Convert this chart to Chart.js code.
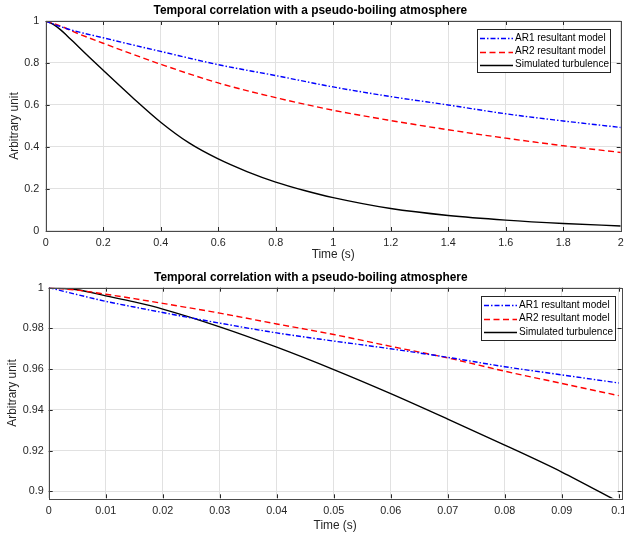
<!DOCTYPE html>
<html><head><meta charset="utf-8">
<script src="https://cdn.jsdelivr.net/npm/chart.js@4.4.0/dist/chart.umd.min.js"></script>
<style>
html,body{margin:0;padding:0;background:#fff;width:624px;height:533px;overflow:hidden;}
#c1{position:absolute;left:0;top:0;}
#c2{position:absolute;left:0;top:265px;}
</style></head><body>
<canvas id="c1" width="624" height="265"></canvas>
<canvas id="c2" width="624" height="268"></canvas>
<script>
const chartTitle = 'Temporal correlation with a pseudo-boiling atmosphere';
const xLabel = 'Time (s)';
const yLabel = 'Arbitrary unit';
const seriesNames = ['AR1 resultant model', 'AR2 resultant model', 'Simulated turbulence'];

// Top panel: 0 - 2 s
const topTimeAR = [0, 0.05, 0.1, 0.2, 0.3, 0.4, 0.6, 0.8, 1.0, 1.2, 1.4, 1.6, 1.8, 2.0];
const topAR1 = [1, 0.974, 0.953, 0.92, 0.887, 0.855, 0.792, 0.74, 0.686, 0.64, 0.60, 0.558, 0.524, 0.493];
const topAR2 = [1, 0.977, 0.947, 0.894, 0.843, 0.794, 0.705, 0.635, 0.575, 0.526, 0.482, 0.442, 0.406, 0.374];
const topTimeSim = [0, 0.025, 0.05, 0.075, 0.1, 0.15, 0.2, 0.3, 0.4, 0.5, 0.6, 0.7, 0.8, 0.9, 1.0, 1.2, 1.4, 1.6, 1.8, 2.0];
const topSim = [1, 0.985, 0.96, 0.929, 0.896, 0.83, 0.765, 0.638, 0.518, 0.418, 0.343, 0.283, 0.233, 0.193, 0.159, 0.107, 0.074, 0.052, 0.036, 0.024];
const topXTicks = [0, 0.2, 0.4, 0.6, 0.8, 1, 1.2, 1.4, 1.6, 1.8, 2];
const topYTicks = [0, 0.2, 0.4, 0.6, 0.8, 1];

// Bottom panel: 0 - 0.1 s
const botTime = [0, 0.005, 0.01, 0.015, 0.02, 0.03, 0.04, 0.05, 0.06, 0.07, 0.08, 0.09, 0.1];
const botAR1 = [1, 0.9966, 0.9933, 0.9905, 0.9878, 0.9826, 0.9778, 0.9738, 0.9700, 0.9658, 0.9612, 0.9572, 0.9532];
const botAR2 = [1, 0.9988, 0.9968, 0.9946, 0.9923, 0.9875, 0.9822, 0.9770, 0.9712, 0.9655, 0.9590, 0.9530, 0.9470];
const botSim = [1, 0.9990, 0.9960, 0.9930, 0.9895, 0.9808, 0.9708, 0.9598, 0.9480, 0.9355, 0.9227, 0.9095, 0.8948];
const botXTicks = [0, 0.01, 0.02, 0.03, 0.04, 0.05, 0.06, 0.07, 0.08, 0.09, 0.1];
const botYTicks = [0.9, 0.92, 0.94, 0.96, 0.98, 1];

const FONT = "'Liberation Sans', Arial, Helvetica, sans-serif";
const AXIS_COLOR = '#262626';
const GRID_COLOR = '#e1e1e1';
const STYLES = [
  {color: '#0000ff', dash: [5, 2, 1.5, 2], width: 1.4},
  {color: '#ff0000', dash: [6, 3.5], width: 1.4},
  {color: '#000000', dash: [], width: 1.4}
];

function pts(xs, ys) { return xs.map((x, i) => ({x: x, y: ys[i]})); }
function fmt(v) { return String(Math.round(v * 10000) / 10000); }

const framePlugin = {
  id: 'frame',
  afterDraw(chart, args, opts) {
    const ctx = chart.ctx, a = chart.chartArea;
    const xs = chart.scales.x, ys = chart.scales.y;
    ctx.save();
    ctx.strokeStyle = AXIS_COLOR;
    ctx.lineWidth = 1;
    ctx.beginPath();
    xs.ticks.forEach(t => {
      const p = Math.round(xs.getPixelForValue(t.value)) + 0.5;
      ctx.moveTo(p, a.bottom); ctx.lineTo(p, a.bottom - 4);
      ctx.moveTo(p, a.top); ctx.lineTo(p, a.top + 4);
    });
    ys.ticks.forEach(t => {
      const p = Math.round(ys.getPixelForValue(t.value)) + 0.5;
      ctx.moveTo(a.left, p); ctx.lineTo(a.left + 4, p);
      ctx.moveTo(a.right, p); ctx.lineTo(a.right - 4, p);
    });
    ctx.stroke();
    ctx.strokeStyle = '#4a4a4a';
    ctx.strokeRect(Math.round(a.left) + 0.5, Math.round(a.top) + 0.5,
                   Math.round(a.right - a.left), Math.round(a.bottom - a.top));
    const L = opts.box;
    ctx.fillStyle = '#ffffff';
    ctx.fillRect(L.x, L.y, L.w, L.h);
    ctx.strokeStyle = AXIS_COLOR;
    ctx.strokeRect(L.x + 0.5, L.y + 0.5, L.w, L.h);
    ctx.font = '10px ' + FONT;
    ctx.textBaseline = 'middle';
    ctx.textAlign = 'left';
    chart.data.datasets.forEach((ds, i) => {
      const yy = L.y + L.rowOffset + i * L.rowGap;
      ctx.beginPath();
      ctx.strokeStyle = ds.borderColor;
      ctx.lineWidth = ds.borderWidth;
      ctx.setLineDash(ds.borderDash || []);
      ctx.moveTo(L.x + 3, Math.round(yy) + 0.5);
      ctx.lineTo(L.x + 36, Math.round(yy) + 0.5);
      ctx.stroke();
      ctx.setLineDash([]);
      ctx.fillStyle = '#000000';
      ctx.fillText(ds.label, L.x + 38, yy);
    });
    ctx.restore();
  }
};

function makeChart(canvas, c) {
  const datasets = c.series.map((s, i) => ({
    label: seriesNames[i],
    data: s,
    borderColor: STYLES[i].color,
    borderDash: STYLES[i].dash,
    borderWidth: STYLES[i].width,
    pointRadius: 0,
    fill: false,
    cubicInterpolationMode: 'monotone'
  }));
  return new Chart(canvas, {
    type: 'line',
    data: {datasets: datasets},
    options: {
      responsive: false,
      animation: false,
      devicePixelRatio: 1,
      layout: {padding: {left: 0, right: c.padRight, top: 0, bottom: 0}},
      plugins: {
        legend: {display: false},
        tooltip: {enabled: false},
        title: {
          display: true, text: chartTitle, color: '#000000',
          font: {family: FONT, size: 11.9, weight: 'bold'},
          padding: {top: c.titleTop, bottom: c.titleBottom}
        },
        frame: {box: c.legendBox}
      },
      scales: {
        x: {
          type: 'linear', min: c.xMin, max: c.xMax,
          afterBuildTicks: s => { s.ticks = c.xTicks.map(v => ({value: v})); },
          afterFit: s => { s.height = c.xHeight; s.paddingLeft = 0; s.paddingRight = 0; },
          grid: {color: GRID_COLOR, drawTicks: false},
          border: {display: false},
          ticks: {padding: 6, color: AXIS_COLOR, font: {family: FONT, size: 10.8},
                  maxRotation: 0, autoSkip: false, callback: v => fmt(v)},
          title: {display: true, text: xLabel, color: AXIS_COLOR,
                  font: {family: FONT, size: 11.9}, padding: {top: 0, bottom: c.xTitlePad}}
        },
        y: {
          type: 'linear', min: c.yMin, max: c.yMax,
          afterBuildTicks: s => { s.ticks = c.yTicks.map(v => ({value: v})); },
          afterFit: s => { s.width = c.yWidth; s.paddingTop = 0; s.paddingBottom = 0; },
          grid: {color: GRID_COLOR, drawTicks: false},
          border: {display: false},
          ticks: {padding: c.yTickPad, color: AXIS_COLOR, font: {family: FONT, size: 10.8},
                  autoSkip: false, callback: v => fmt(v)},
          title: {display: true, text: yLabel, color: AXIS_COLOR,
                  font: {family: FONT, size: 11.9}, padding: {top: c.yTitlePad, bottom: 0}}
        }
      }
    },
    plugins: [framePlugin]
  });
}

makeChart(document.getElementById('c1'), {
  series: [pts(topTimeAR, topAR1), pts(topTimeAR, topAR2), pts(topTimeSim, topSim)],
  xMin: 0, xMax: 2, yMin: 0, yMax: 1,
  xTicks: topXTicks, yTicks: topYTicks,
  padRight: 3.3, titleTop: 4, titleBottom: 2.7,
  xHeight: 34, xTitlePad: 3.5, yWidth: 45.7, yTickPad: 6.5, yTitlePad: 8,
  legendBox: {x: 477, y: 29, w: 133, h: 43, rowOffset: 9.3, rowGap: 13.2}
});

makeChart(document.getElementById('c2'), {
  series: [pts(botTime, botAR1), pts(botTime, botAR2), pts(botTime, botSim)],
  xMin: 0, xMax: 0.1005, yMin: 0.8966, yMax: 1,
  xTicks: botXTicks, yTicks: botYTicks,
  padRight: 2.4, titleTop: 6, titleBottom: 2.4,
  xHeight: 34.7, xTitlePad: 0, yWidth: 48.7, yTickPad: 5, yTitlePad: 6,
  legendBox: {x: 481, y: 31, w: 134, h: 44, rowOffset: 9, rowGap: 13.5}
});
</script>
</body></html>
